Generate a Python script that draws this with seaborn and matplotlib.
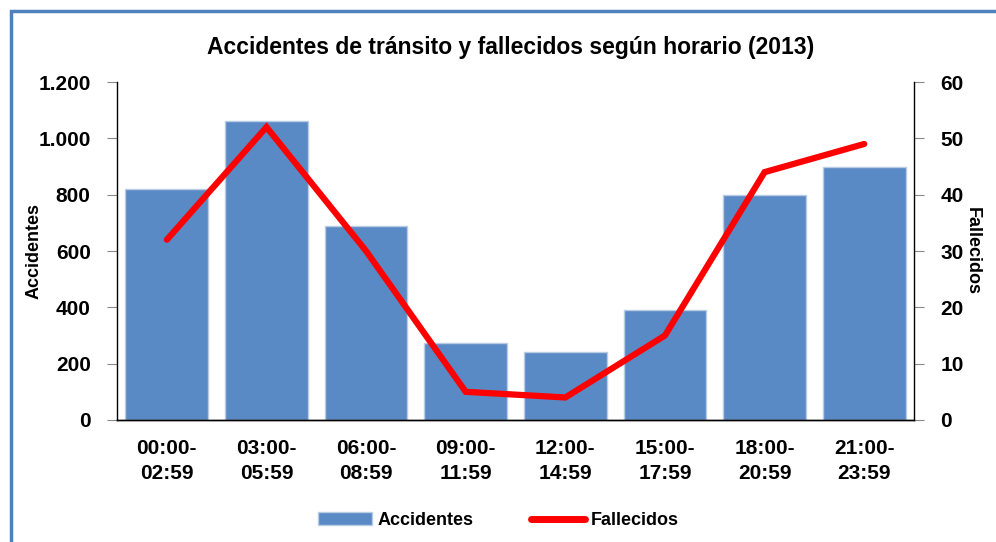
import numpy as np
import pandas as pd
import seaborn as sns
import matplotlib.pyplot as plt
from matplotlib.patches import Rectangle
from matplotlib.lines import Line2D
from matplotlib.patches import Patch
from matplotlib.ticker import FuncFormatter

horarios = ['00:00-\n02:59', '03:00-\n05:59', '06:00-\n08:59', '09:00-\n11:59',
            '12:00-\n14:59', '15:00-\n17:59', '18:00-\n20:59', '21:00-\n23:59']
accidentes = [820, 1060, 690, 272, 240, 390, 800, 900]
fallecidos = [32, 52, 30, 5, 4, 15, 44, 49]

sns.set_style('white')
plt.rcParams['font.family'] = ['Liberation Sans', 'DejaVu Sans']
plt.rcParams['font.weight'] = 'bold'
plt.rcParams['text.color'] = 'black'
plt.rcParams['axes.labelcolor'] = 'black'

df = pd.DataFrame({'horario': horarios, 'accidentes': accidentes, 'fallecidos': fallecidos})

fig = plt.figure(figsize=(9.96, 5.42), dpi=100)
ax = fig.add_axes([0.1175, 0.2251, 0.8002, 0.6236])

# blue frame (right/bottom cut off in the reference)
fig.patches.append(Rectangle((11 / 996, -0.1), 1.2, 1 - 11 / 542 + 0.1, transform=fig.transFigure,
                             fill=False, edgecolor='#4f81bd', linewidth=2.5, zorder=0))

sns.barplot(data=df, x='horario', y='accidentes', color='#5a8ac6', saturation=1,
            width=0.83, edgecolor='#b8cce4', linewidth=1, ax=ax)
ax.set_ylim(0, 1200)
ax.set_yticks(range(0, 1201, 200))
ax.yaxis.set_major_formatter(FuncFormatter(lambda v, p: f'{int(v):,}'.replace(',', '.')))
ax.set_xlim(-0.5, 7.5)
ax.set_xlabel('')
ax.set_ylabel('Accidentes', fontsize=13, fontweight='bold', labelpad=-3)

ax2 = ax.twinx()
sns.pointplot(data=df, x='horario', y='fallecidos', color='#ff0000', markers='',
              linewidth=4.5, ax=ax2)
ax2.set_ylim(0, 60)
ax2.set_xlim(-0.5, 7.5)
ax2.set_yticks(range(0, 61, 10))
ax2.set_ylabel('Fallecidos', fontsize=13, fontweight='bold', rotation=270, labelpad=12)
ax2.lines[0].set_solid_capstyle('round')
ax2.lines[0].set_solid_joinstyle('miter')

for a in (ax, ax2):
    for s in a.spines.values():
        s.set_color('black')
        s.set_linewidth(1)
    a.spines['top'].set_visible(False)
    a.tick_params(axis='y', direction='out', length=7, color='#888888', labelcolor='black',
                  labelsize=15, pad=12)
    a.tick_params(axis='x', length=0, labelcolor='black', labelsize=15, pad=14)
    for lbl in a.get_yticklabels() + a.get_xticklabels():
        lbl.set_fontweight('bold')
for lbl in ax.get_xticklabels():
    lbl.set_linespacing(1.35)
ax.spines['right'].set_visible(False)
ax2.spines['left'].set_visible(False)

fig.text(0.513, 0.913, 'Accidentes de tránsito y fallecidos según horario (2013)',
         ha='center', va='center', fontsize=16.5, fontweight='bold')

handles = [Patch(facecolor='#5a8ac6', edgecolor='#b8cce4'),
           Line2D([0], [0], color='#ff0000', linewidth=5, solid_capstyle='round')]
fig.legend(handles, ['Accidentes', 'Fallecidos'], loc='center', bbox_to_anchor=(0.5, 0.04),
           ncol=2, frameon=False, handlelength=3.0, handletextpad=0.3,
           columnspacing=3.2, prop={'weight': 'bold', 'size': 13})

fig.savefig('out.png', dpi=100)
